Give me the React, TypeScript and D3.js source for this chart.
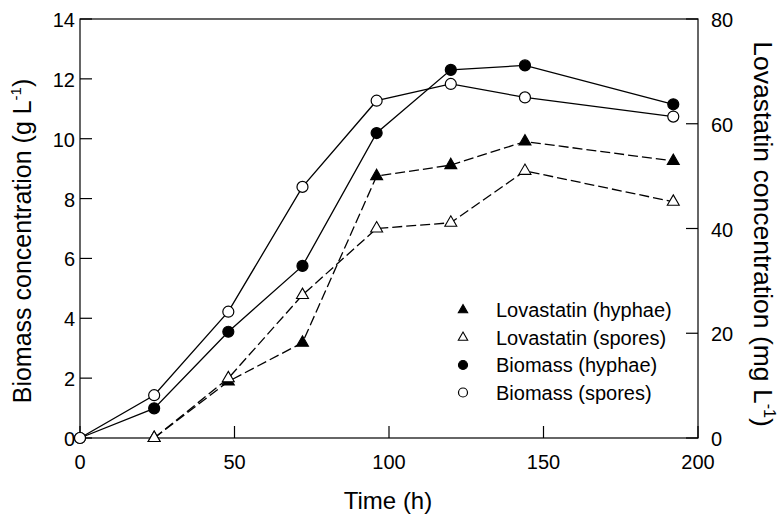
import * as React from 'react';
import * as d3 from 'd3';

// Time points (h)
const timeBiomass = [0, 24, 48, 72, 96, 120, 144, 192];
const timeLovastatin = [24, 48, 72, 96, 120, 144, 192];

// Biomass, g/L (left axis)
const biomassHyphae = [0, 0.99, 3.55, 5.75, 10.19, 12.3, 12.45, 11.15];
const biomassSpores = [0, 1.43, 4.22, 8.39, 11.27, 11.83, 11.38, 10.74];

// Lovastatin, mg/L (right axis)
const lovastatinHyphae = [0, 10.8, 18.2, 50.0, 52.1, 56.6, 52.9];
const lovastatinSpores = [0, 11.4, 27.3, 40.0, 41.1, 51.0, 45.1];

const xTicks = [0, 50, 100, 150, 200];
const leftTicks = [0, 2, 4, 6, 8, 10, 12, 14];
const rightTicks = [0, 20, 40, 60, 80];

const legendLabels = [
  'Lovastatin (hyphae)',
  'Lovastatin (spores)',
  'Biomass (hyphae)',
  'Biomass (spores)',
];

const FONT = '"Liberation Sans", Arial, sans-serif';

const W = 782;
const H = 517;
const m = { left: 80, right: 698, top: 19, bottom: 438 };

const x = d3.scaleLinear().domain([0, 200]).range([m.left, m.right]);
const yL = d3.scaleLinear().domain([0, 14]).range([m.bottom, m.top]);
const yR = d3.scaleLinear().domain([0, 80]).range([m.bottom, m.top]);

const triPath = (s: number) => d3.symbol(d3.symbolTriangle, s)() || '';

function Marker(props: { kind: string; cx: number; cy: number; small?: boolean }) {
  const { kind, cx, cy, small } = props;
  const r = small ? 4.5 : 5.5;
  const triSize = small ? 38 : 62;
  if (kind === 'circleFilled' || kind === 'circleOpen') {
    return (
      <circle
        cx={cx}
        cy={cy}
        r={r}
        fill={kind === 'circleFilled' ? '#000' : '#fff'}
        stroke="#000"
        strokeWidth={1.2}
      />
    );
  }
  return (
    <path
      d={triPath(triSize)}
      transform={`translate(${cx},${cy})`}
      fill={kind === 'triFilled' ? '#000' : '#fff'}
      stroke="#000"
      strokeWidth={1.1}
    />
  );
}

export default function App() {
  const lineB = d3
    .line<number>()
    .x((_, i) => x(timeBiomass[i]))
    .y((d) => yL(d));
  const lineL = d3
    .line<number>()
    .x((_, i) => x(timeLovastatin[i]))
    .y((d) => yR(d));

  const tickLen = 12;

  return (
    <svg width={W} height={H} style={{ position: 'absolute', left: 0, top: 0, background: '#fff' }}>
      <rect x={0} y={0} width={W} height={H} fill="#fff" />
      {/* frame */}
      <rect
        x={m.left}
        y={m.top}
        width={m.right - m.left}
        height={m.bottom - m.top}
        fill="none"
        stroke="#000"
        strokeWidth={1.2}
      />

      {/* x ticks (inward) */}
      {xTicks.map((t) => (
        <g key={'x' + t}>
          <line x1={x(t)} x2={x(t)} y1={m.bottom} y2={m.bottom - tickLen} stroke="#000" strokeWidth={1.2} />
          <text x={x(t)} y={m.bottom + 31} textAnchor="middle" fontFamily={FONT} fontSize={20}>
            {t}
          </text>
        </g>
      ))}

      {/* left ticks */}
      {leftTicks.map((t) => (
        <g key={'l' + t}>
          <line x1={m.left} x2={m.left + tickLen} y1={yL(t)} y2={yL(t)} stroke="#000" strokeWidth={1.2} />
          <text x={m.left - 5} y={yL(t) + 8} textAnchor="end" fontFamily={FONT} fontSize={20}>
            {t}
          </text>
        </g>
      ))}

      {/* right ticks */}
      {rightTicks.map((t) => (
        <g key={'r' + t}>
          <line x1={m.right} x2={m.right - tickLen} y1={yR(t)} y2={yR(t)} stroke="#000" strokeWidth={1.2} />
          <text x={m.right + 13} y={yR(t) + 8} textAnchor="start" fontFamily={FONT} fontSize={20}>
            {t}
          </text>
        </g>
      ))}

      {/* axis titles */}
      <text
        transform="translate(31,241) rotate(-90)"
        textAnchor="middle"
        fontFamily={FONT}
        fontSize={25}
      >
        Biomass concentration (g L<tspan dy={-10} fontSize={15}>-1</tspan>
        <tspan dy={10}>)</tspan>
      </text>
      <text
        transform="translate(754,234) rotate(90)"
        textAnchor="middle"
        fontFamily={FONT}
        fontSize={26.5}
      >
        Lovastatin concentration (mg L<tspan dy={-10} fontSize={16}>-1</tspan>
        <tspan dy={10}>)</tspan>
      </text>
      <text x={388} y={509} textAnchor="middle" fontFamily={FONT} fontSize={24}>
        Time (h)
      </text>

      {/* lines */}
      <path d={lineL(lovastatinHyphae) || ''} fill="none" stroke="#000" strokeWidth={1.3} strokeDasharray="10,4" />
      <path d={lineL(lovastatinSpores) || ''} fill="none" stroke="#000" strokeWidth={1.3} strokeDasharray="10,4" />
      <path d={lineB(biomassHyphae) || ''} fill="none" stroke="#000" strokeWidth={1.3} />
      <path d={lineB(biomassSpores) || ''} fill="none" stroke="#000" strokeWidth={1.3} />

      {/* markers */}
      {lovastatinHyphae.map((v, i) => (
        <Marker key={'lh' + i} kind="triFilled" cx={x(timeLovastatin[i])} cy={yR(v)} />
      ))}
      {lovastatinSpores.map((v, i) => (
        <Marker key={'ls' + i} kind="triOpen" cx={x(timeLovastatin[i])} cy={yR(v)} />
      ))}
      {biomassHyphae.map((v, i) => (
        <Marker key={'bh' + i} kind="circleFilled" cx={x(timeBiomass[i])} cy={yL(v)} />
      ))}
      {biomassSpores.map((v, i) => (
        <Marker key={'bs' + i} kind="circleOpen" cx={x(timeBiomass[i])} cy={yL(v)} />
      ))}

      {/* legend */}
      {legendLabels.map((label, i) => {
        const cy = 310 + i * 27.5;
        const kinds = ['triFilled', 'triOpen', 'circleFilled', 'circleOpen'];
        return (
          <g key={label}>
            <Marker kind={kinds[i]} cx={463} cy={cy} small />
            <text x={496} y={cy + 7} fontFamily={FONT} fontSize={20}>
              {label}
            </text>
          </g>
        );
      })}
    </svg>
  );
}
